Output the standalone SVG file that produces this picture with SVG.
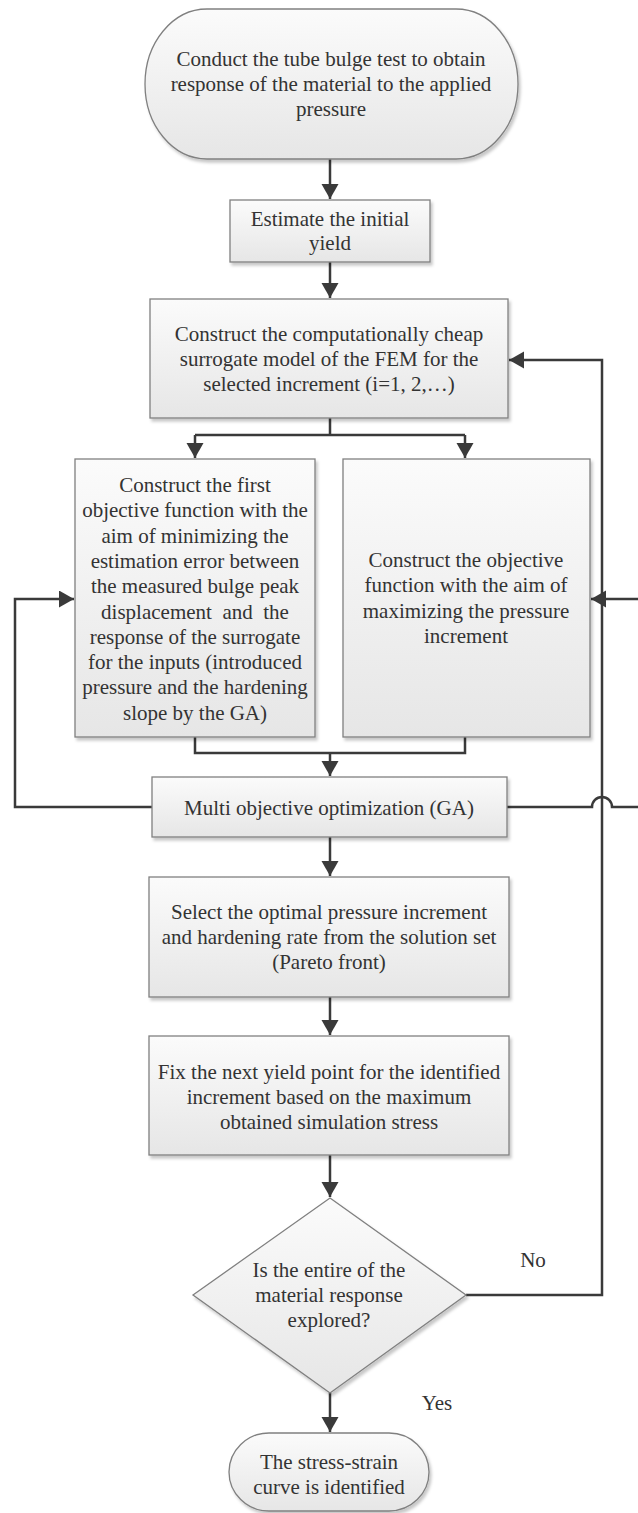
<svg xmlns="http://www.w3.org/2000/svg" width="638" height="1513" viewBox="0 0 638 1513">
<defs>
<linearGradient id="g" x1="0" y1="0" x2="0" y2="1">
<stop offset="0" stop-color="#fbfbfb"/>
<stop offset="1" stop-color="#e6e6e6"/>
</linearGradient>
<filter id="sh" x="-10%" y="-10%" width="130%" height="130%">
<feDropShadow dx="2" dy="3" stdDeviation="1.5" flood-color="#000" flood-opacity="0.22"/>
</filter>
<marker id="ah" markerUnits="userSpaceOnUse" markerWidth="18" markerHeight="18" refX="15" refY="8.5" orient="auto">
<path d="M0,0 L15,8.5 L0,17 z" fill="#3a3a3a"/>
</marker>
<style>
.n{fill:url(#g);stroke:#808080;stroke-width:1.3;filter:url(#sh)}
.t{font-family:"Liberation Serif","Times New Roman",serif;font-size:21px;fill:#333;text-anchor:middle}
.c{fill:none;stroke:#3a3a3a;stroke-width:2.5}
.a{marker-end:url(#ah)}
</style>
</defs>

<g id="connectors">
<path class="c a" d="M330,159 L330,199"/>
<path class="c a" d="M330,262 L330,298"/>
<path class="c" d="M330,418 L330,435 M195,435 L465,435"/>
<path class="c a" d="M195,435 L195,458"/>
<path class="c a" d="M465,435 L465,458"/>
<path class="c" d="M195,737 L195,753 L465,753 L465,737"/>
<path class="c a" d="M330,753 L330,776"/>
<path class="c a" d="M330,837 L330,876"/>
<path class="c a" d="M330,997 L330,1035"/>
<path class="c a" d="M330,1155 L330,1197"/>
<path class="c a" d="M330,1393 L330,1432"/>
<path class="c a" d="M466,1295 L602,1295 L602,360 L509,360"/>
<path class="c a" d="M152,807 L15,807 L15,599 L74,599"/>
<path class="c a" d="M507,807 L592,807 A10,10 0 0 1 612,807 L650,807 L650,599 L591,599"/>
</g>

<g id="n1">
<rect class="n" x="145" y="9" width="373" height="150" rx="62" ry="75"/>
<text class="t" x="331" y="66">Conduct the tube bulge test to obtain</text>
<text class="t" x="331" y="91">response of the material to the applied</text>
<text class="t" x="331" y="116">pressure</text>
</g>

<g id="n2">
<rect class="n" x="230" y="200" width="200" height="62"/>
<text class="t" x="330" y="226">Estimate the initial</text>
<text class="t" x="330" y="250">yield</text>
</g>

<g id="n3">
<rect class="n" x="150" y="299" width="358" height="119"/>
<text class="t" x="329" y="341">Construct the computationally cheap</text>
<text class="t" x="329" y="366">surrogate model of the FEM for the</text>
<text class="t" x="329" y="391">selected increment (i=1, 2,…)</text>
</g>

<g id="n4">
<rect class="n" x="75" y="459" width="240" height="278"/>
<text class="t" x="195" y="492">Construct the first</text>
<text class="t" x="195" y="517">objective function with the</text>
<text class="t" x="195" y="543">aim of minimizing the</text>
<text class="t" x="195" y="568">estimation error between</text>
<text class="t" x="195" y="593">the measured bulge peak</text>
<text class="t" x="195" y="619" xml:space="preserve">displacement  and  the</text>
<text class="t" x="195" y="644">response of the surrogate</text>
<text class="t" x="195" y="669">for the inputs (introduced</text>
<text class="t" x="195" y="694">pressure and the hardening</text>
<text class="t" x="195" y="720">slope by the GA)</text>
</g>

<g id="n5">
<rect class="n" x="343" y="459" width="247" height="278"/>
<text class="t" x="466" y="567">Construct the objective</text>
<text class="t" x="466" y="592">function with the aim of</text>
<text class="t" x="466" y="618">maximizing the pressure</text>
<text class="t" x="466" y="643">increment</text>
</g>

<g id="n6">
<rect class="n" x="152" y="777" width="355" height="60"/>
<text class="t" x="329" y="815">Multi objective optimization (GA)</text>
</g>

<g id="n7">
<rect class="n" x="149" y="877" width="360" height="120"/>
<text class="t" x="329" y="919">Select the optimal pressure increment</text>
<text class="t" x="329" y="944">and hardening rate from the solution set</text>
<text class="t" x="329" y="969">(Pareto front)</text>
</g>

<g id="n8">
<rect class="n" x="149" y="1036" width="360" height="119"/>
<text class="t" x="329" y="1079">Fix the next yield point for the identified</text>
<text class="t" x="329" y="1104">increment based on the maximum</text>
<text class="t" x="329" y="1129">obtained simulation stress</text>
</g>

<g id="n9">
<polygon class="n" points="330,1198 466,1295 330,1393 193,1295"/>
<text class="t" x="329" y="1277">Is the entire of the</text>
<text class="t" x="329" y="1302">material response</text>
<text class="t" x="329" y="1327">explored?</text>
</g>

<g id="n10">
<rect class="n" x="229" y="1433" width="200" height="78" rx="40" ry="39"/>
<text class="t" x="329" y="1469">The stress-strain</text>
<text class="t" x="329" y="1494">curve is identified</text>
</g>

<g id="labels">
<text class="t" x="533" y="1267">No</text>
<text class="t" x="437" y="1410">Yes</text>
</g>
</svg>
